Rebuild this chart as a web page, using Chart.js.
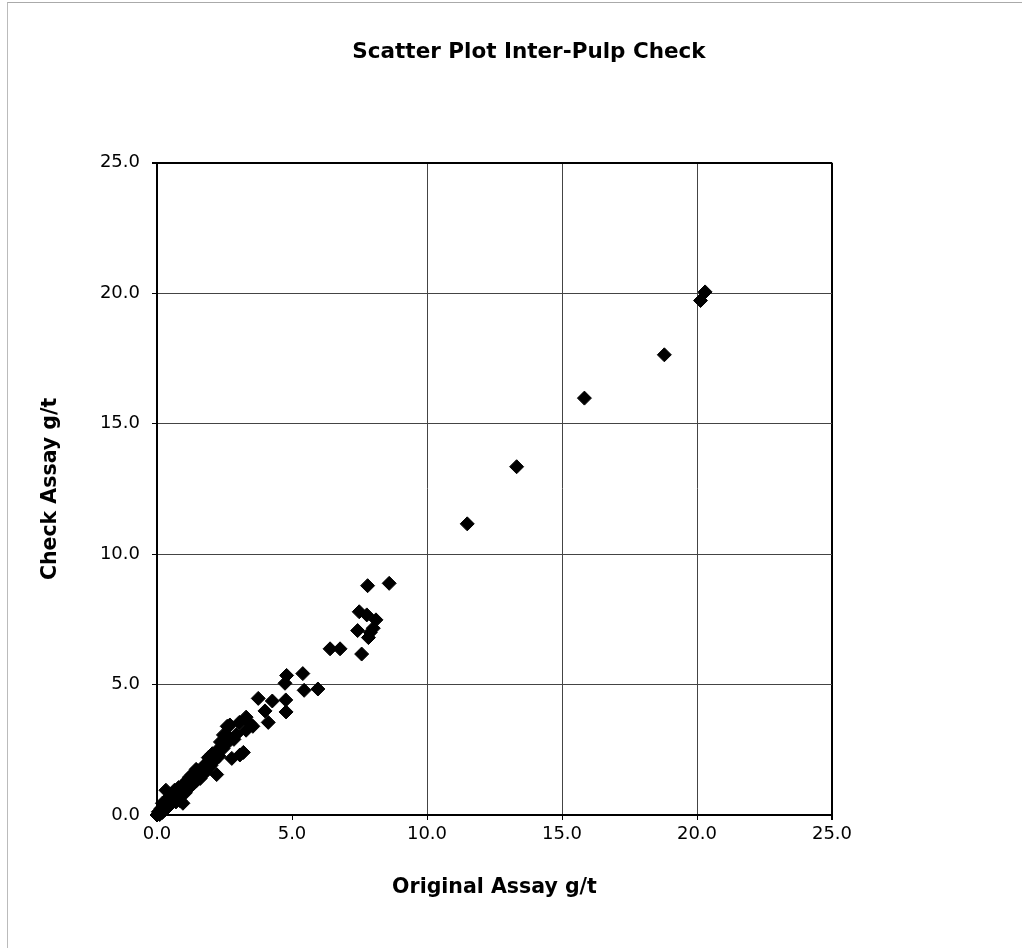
<!DOCTYPE html>
<html>
<head>
<meta charset="utf-8">
<script src="https://cdn.jsdelivr.net/npm/chart.js@4/dist/chart.umd.min.js"></script>
<style>
  html, body { margin: 0; padding: 0; background: #fff; }
  #wrap { position: relative; width: 1022px; height: 948px; }
  #frame { position: absolute; left: 7px; top: 2px; right: 0; bottom: 0; border-top: 1px solid #aaa; border-left: 1px solid #bbb; pointer-events: none; }
  canvas { position: absolute; left: 0; top: 0; }
</style>
</head>
<body>
<div id="wrap">
  <canvas id="c" width="1022" height="948"></canvas>
  <div id="frame"></div>
</div>
<script>
const chartTitle = "Scatter Plot Inter-Pulp Check";
const xAxisTitle = "Original Assay g/t";
const yAxisTitle = "Check Assay g/t";
const tickValues = [0, 5, 10, 15, 20, 25];

const originalAssay = [
  0.0, 0.05, 0.1, 0.15, 0.2, 0.25, 0.3, 0.33, 0.35, 0.4, 0.45, 0.5, 0.55, 0.6, 0.65, 0.7,
  0.75, 0.8, 0.85, 0.9, 0.96, 1.0, 1.05, 1.1, 1.15, 1.2, 1.25, 1.3, 1.35, 1.4, 1.45, 1.5,
  1.55, 1.6, 1.65, 1.7, 1.75, 1.8, 1.85, 1.9, 1.95, 2.0, 2.05, 2.1, 2.15, 2.21, 2.25, 2.3,
  2.35, 2.45, 2.46, 2.55, 2.6, 2.7, 2.77, 2.85, 2.95, 3.07, 3.05, 3.2, 3.3, 3.3, 3.44, 3.55,
  0.2, 0.5, 0.7, 1.0, 1.15, 1.3, 1.45, 1.6, 1.9, 2.2, 2.5, 2.65,
  3.75, 4.27, 4.0, 4.12, 4.8, 5.4, 4.74, 5.45, 5.96, 4.77, 4.78,
  6.41, 6.78, 7.58, 7.49, 7.77, 8.11, 8.01, 7.43, 7.83, 7.9, 7.8, 8.6,
  11.49, 13.32, 15.83, 18.79, 20.13, 20.3
];
const checkAssay = [
  0.0, 0.12, 0.02, 0.25, 0.1, 0.35, 0.2, 0.95, 0.5, 0.3, 0.7, 0.45, 0.8, 0.6, 0.95, 0.5,
  0.75, 1.05, 0.55, 0.95, 0.45, 1.2, 0.85, 1.3, 1.0, 1.45, 1.15, 1.35, 1.2, 1.55, 1.3, 1.5,
  1.7, 1.4, 1.75, 1.55, 1.9, 1.65, 2.0, 1.8, 2.15, 1.9, 2.35, 2.05, 2.2, 1.55, 2.5, 2.25,
  2.8, 2.55, 3.07, 2.7, 3.4, 3.45, 2.17, 2.9, 3.1, 2.3, 3.55, 2.4, 3.75, 3.25, 3.51, 3.4,
  0.45, 0.65, 0.8, 0.9, 1.35, 1.55, 1.75, 1.65, 2.2, 2.35, 2.9, 3.0,
  4.47, 4.37, 3.99, 3.55, 5.35, 5.42, 5.05, 4.78, 4.83, 4.41, 3.95,
  6.37, 6.37, 6.17, 7.79, 7.67, 7.48, 7.16, 7.07, 6.8, 7.0, 8.79, 8.88,
  11.16, 13.35, 15.98, 17.64, 19.72, 20.05
];

const points = originalAssay.map((x, i) => ({ x: x, y: checkAssay[i] }));
const FONT = "'DejaVu Sans', sans-serif";

new Chart(document.getElementById('c'), {
  type: 'scatter',
  data: {
    datasets: [{
      label: 'Check',
      data: points,
      clip: false,
      pointStyle: 'rectRot',
      pointRadius: 7,
      pointHoverRadius: 7,
      pointBackgroundColor: '#000',
      pointBorderColor: '#000',
      pointBorderWidth: 1
    }]
  },
  options: {
    responsive: false,
    animation: false,
    events: [],
    layout: { padding: { left: 36, right: 0, top: 0, bottom: 0 } },
    plugins: {
      legend: { display: false },
      tooltip: { enabled: false },
      title: {
        display: true,
        text: chartTitle,
        color: '#000',
        font: { family: FONT, size: 21.5, weight: 'bold' },
        padding: { top: 40, bottom: 97 }
      }
    },
    scales: {
      x: {
        type: 'linear',
        min: 0, max: 25,
        afterBuildTicks: s => { s.ticks = tickValues.map(v => ({ value: v })); },
        afterFit: s => { s.height = 133; },
        ticks: {
          color: '#000',
          font: { family: FONT, size: 18 },
          padding: 4,
          callback: v => Number(v).toFixed(1)
        },
        grid: {
          drawTicks: true,
          tickLength: 5,
          tickColor: '#000',
          color: c => (c.tick && (c.tick.value === 5 || c.tick.value === 0)) ? 'rgba(0,0,0,0)' : (c.tick && c.tick.value === 25 ? '#000' : '#444'),
          lineWidth: c => (c.tick && c.tick.value === 25) ? 2 : 1
        },
        border: { display: true, color: '#000', width: 2 },
        title: {
          display: true,
          text: xAxisTitle,
          color: '#000',
          font: { family: FONT, size: 20.5, weight: 'bold' },
          padding: { top: 0, bottom: 48 }
        }
      },
      y: {
        type: 'linear',
        min: 0, max: 25,
        afterBuildTicks: s => { s.ticks = tickValues.map(v => ({ value: v })); },
        afterFit: s => { s.width = 121; },
        ticks: {
          color: '#000',
          font: { family: FONT, size: 18 },
          padding: 12,
          callback: v => Number(v).toFixed(1)
        },
        grid: {
          drawTicks: true,
          tickLength: 5,
          tickColor: '#000',
          color: c => (c.tick && c.tick.value === 25) ? '#000' : '#444',
          lineWidth: c => (c.tick && c.tick.value === 25) ? 2 : 1
        },
        border: { display: true, color: '#000', width: 2 },
        title: {
          display: true,
          text: yAxisTitle,
          color: '#000',
          font: { family: FONT, size: 20.5, weight: 'bold' },
          padding: { top: 2, bottom: 0 }
        }
      },
      yRightSpace: {
        type: 'linear',
        position: 'right',
        display: true,
        ticks: { display: false },
        grid: { display: false, drawTicks: false },
        border: { display: false },
        afterFit: s => { s.width = 190; }
      }
    }
  }
});
</script>
</body>
</html>
